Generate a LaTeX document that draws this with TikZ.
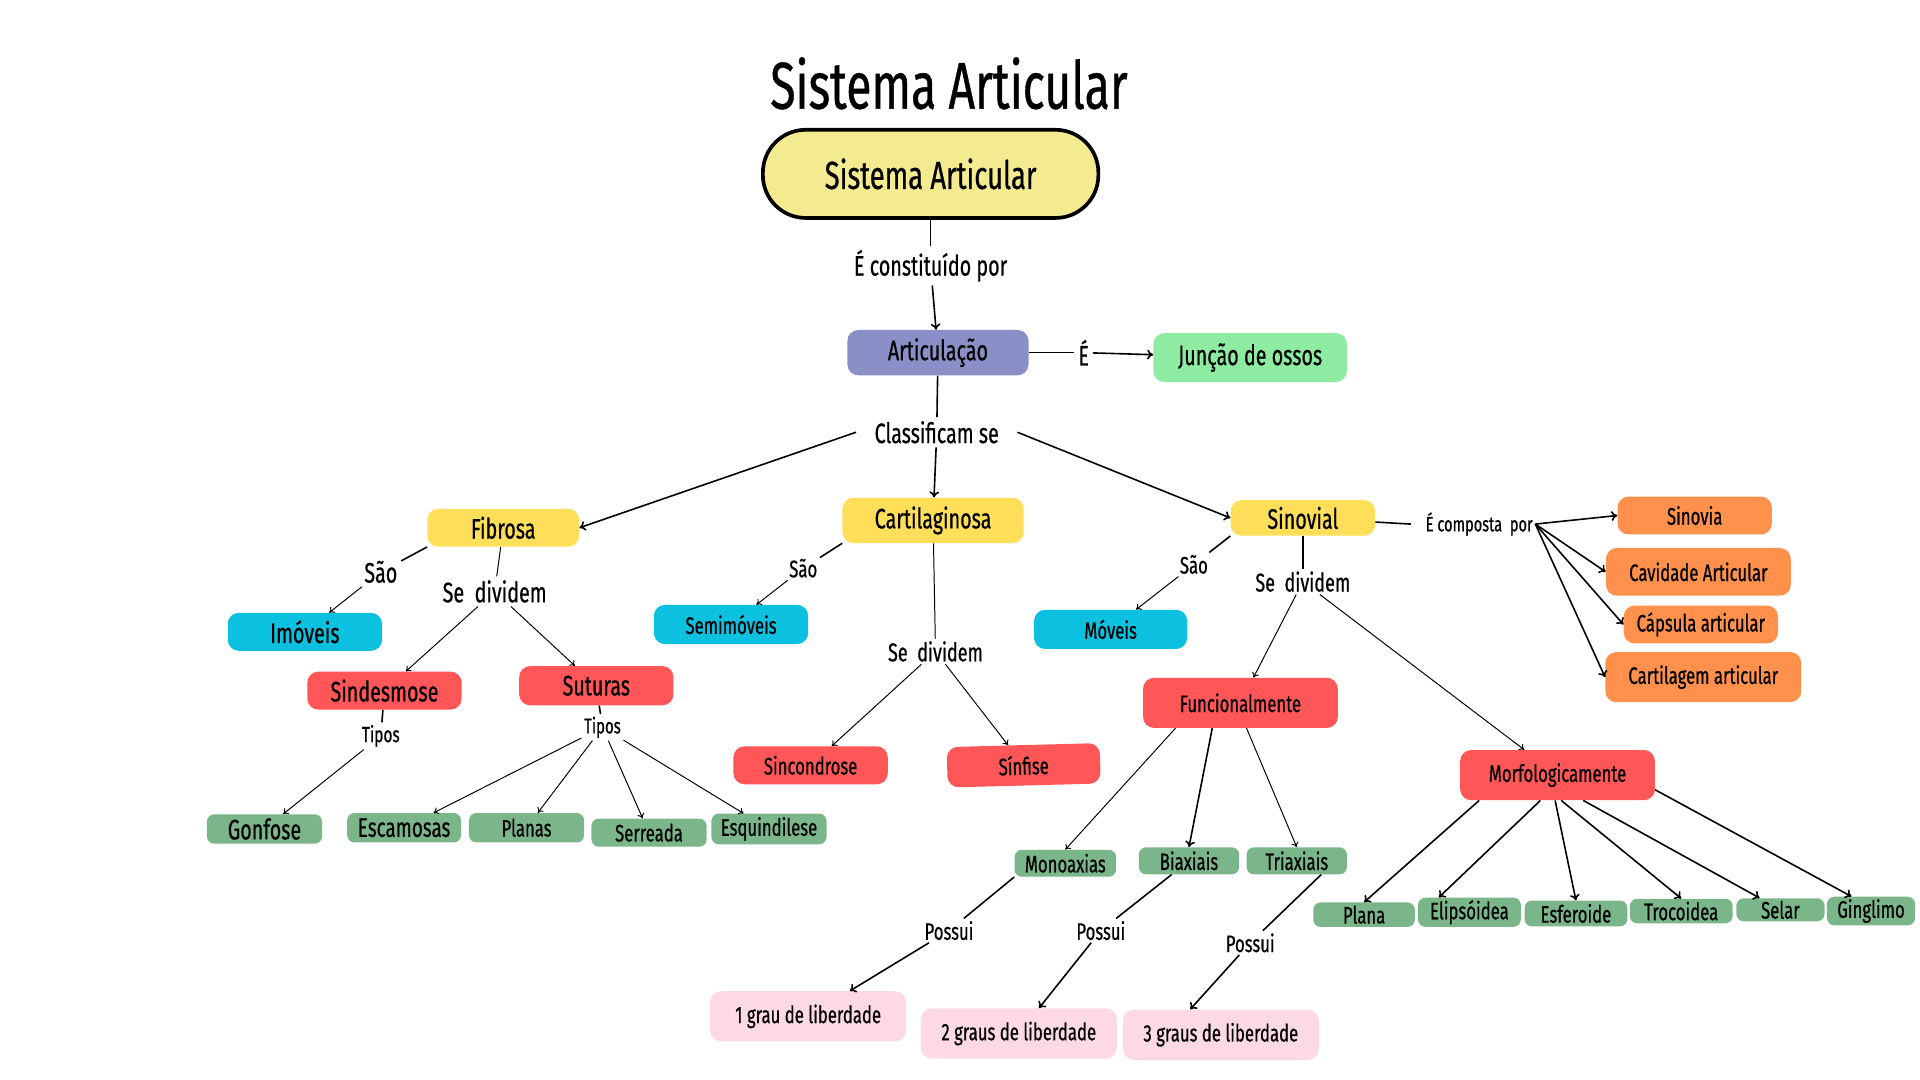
\documentclass[tikz,border=0pt]{standalone}
\usepackage{fontspec}
\setmainfont{Fira Sans}[FakeStretch=0.7, FakeBold=0.6]
\usetikzlibrary{arrows.meta}
\definecolor{pillyellow}{HTML}{F4EA90}
\definecolor{lavender}{HTML}{8A8FC7}
\definecolor{mint}{HTML}{8EEBA2}
\definecolor{sun}{HTML}{FFDE59}
\definecolor{sky}{HTML}{0CC0DF}
\definecolor{coral}{HTML}{FF5757}
\definecolor{sage}{HTML}{7BB68B}
\definecolor{tangerine}{HTML}{FF914D}
\definecolor{blush}{HTML}{FCD9E4}
\newcommand{\fsz}[1]{\fontsize{#1}{#1}\selectfont}
\tikzstyle{heading} = [font=\fsz{54}]
\tikzstyle{pill} = [rectangle, rounded corners=35, minimum width=274, minimum height=72, draw=black, line width=3pt, fill=pillyellow, font=\fsz{32}]
\tikzstyle{box} = [rectangle, rounded corners=9, text centered, inner sep=2, font=\fsz{23}]
\tikzstyle{smallbox} = [box, font=\fsz{19.5}]
\tikzstyle{leaf} = [smallbox, fill=sage, rounded corners=6]
\tikzstyle{label} = [inner sep=3, font=\fsz{23}]
\tikzstyle{smalllabel} = [inner sep=2, font=\fsz{19.5}]
\tikzstyle{link} = [line width=1.3pt]
\tikzstyle{thinlink} = [line width=0.8pt]
\tikzstyle{arrow} = [line width=1.3pt, -{To[length=5pt,width=8pt]}]
\tikzstyle{thinarrow} = [line width=0.8pt, -{To[length=4pt,width=6pt]}]

\begin{document}
\begin{tikzpicture}[x=1pt, y=-1pt]
    \useasboundingbox (0,0) rectangle (1568,882);
    \node (title)[heading] at (775,68){Sistema Articular};
    \node (sis)[pill] at (760,142){Sistema Articular};
    \node (cons)[label] at (760,217){É constituído por};
    \node (art)[box, fill=lavender, minimum width=148, minimum height=37] at (766,288){Articulação};
    \node (e)[label] at (885,288){É};
    \node (jun)[box, fill=mint, minimum width=158, minimum height=40] at (1021,292){Junção de ossos};
    \node (class)[label] at (765,353){Classificam se};
    \node (fib)[box, fill=sun, minimum width=124, minimum height=31] at (411,431){Fibrosa};
    \node (car)[box, fill=sun, minimum width=148, minimum height=37] at (762,425){Cartilaginosa};
    \node (sin)[box, fill=sun, minimum width=118, minimum height=29] at (1064,423){Sinovial};
    % fibrosa
    \node (fsao)[label] at (311,467){São};
    \node (fdiv)[label] at (404,483){Se~~dividem};
    \node (imo)[box, fill=sky, minimum width=126, minimum height=31] at (249,516){Imóveis};
    \node (sind)[box, fill=coral, minimum width=126, minimum height=31] at (314,564){Sindesmose};
    \node (sut)[box, fill=coral, minimum width=126, minimum height=32] at (487,560){Suturas};
    \node (tip1)[smalllabel, font=\fsz{18}] at (311,601){Tipos};
    \node (tip2)[smalllabel, font=\fsz{17.5}] at (492,594){Tipos};
    \node (gon)[leaf, font=\fsz{23}, minimum width=94, minimum height=24] at (216,677){Gonfose};
    \node (esc)[leaf, font=\fsz{22}, minimum width=93, minimum height=24] at (330,676){Escamosas};
    \node (pla)[leaf, minimum width=94, minimum height=24] at (430,676){Planas};
    \node (ser)[leaf, minimum width=94, minimum height=23] at (530,680){Serreada};
    \node (esq)[leaf, minimum width=94, minimum height=25] at (628,677){Esquindilese};
    % cartilaginosa
    \node (csao)[smalllabel] at (656,464){São};
    \node (cdiv)[smalllabel, font=\fsz{21}] at (764,532){Se~~dividem};
    \node (semi)[smallbox, fill=sky, minimum width=126, minimum height=32] at (597,510){Semimóveis};
    \node (sinc)[smallbox, fill=coral, minimum width=126, minimum height=31] at (662,625){Sincondrose};
    \node (sinf)[smallbox, fill=coral, minimum width=125, minimum height=33, rotate=1.5] at (836,625){Sínfise};
    % sinovial
    \node (ssao)[smalllabel] at (975,461){São};
    \node (sdiv)[smalllabel, font=\fsz{21}] at (1064,475){Se~~dividem};
    \node (mov)[smallbox, fill=sky, minimum width=125, minimum height=32] at (907,514){Móveis};
    \node (func)[smallbox, fill=coral, minimum width=159, minimum height=41] at (1013,574){Funcionalmente};
    \node (morf)[smallbox, fill=coral, minimum width=159, minimum height=41] at (1272,633){Morfologicamente};
    \node (comp)[smalllabel, font=\fsz{17}] at (1208,428){É composta~~por};
    \node (snv)[smallbox, fill=tangerine, minimum width=126, minimum height=31] at (1384,421){Sinovia};
    \node (cav)[smallbox, fill=tangerine, minimum width=151, minimum height=39] at (1387,467){Cavidade Articular};
    \node (cap)[smallbox, fill=tangerine, minimum width=126, minimum height=31] at (1389,510){Cápsula articular};
    \node (cart)[smallbox, fill=tangerine, minimum width=160, minimum height=41] at (1391,553){Cartilagem articular};
    \node (mono)[leaf, minimum width=83, minimum height=22] at (870,705){Monoaxias};
    \node (biax)[leaf, minimum width=82, minimum height=22] at (971,703){Biaxiais};
    \node (triax)[leaf, minimum width=82, minimum height=22] at (1059,703){Triaxiais};
    \node (pos1)[smalllabel] at (775,760){Possui};
    \node (pos2)[smalllabel] at (899,760){Possui};
    \node (pos3)[smalllabel] at (1021,770){Possui};
    \node (g1)[smallbox, fill=blush, minimum width=160, minimum height=41] at (660,830){1 grau de liberdade};
    \node (g2)[smallbox, fill=blush, minimum width=160, minimum height=41] at (832,844){2 graus de liberdade};
    \node (g3)[smallbox, fill=blush, minimum width=160, minimum height=41] at (997,845){3 graus de liberdade};
    \node (plana)[leaf, minimum width=83, minimum height=20] at (1114,747){Plana};
    \node (elip)[leaf, minimum width=84, minimum height=21] at (1200,745){Elipsóidea};
    \node (esf)[leaf, minimum width=84, minimum height=21] at (1287,746){Esferoide};
    \node (troc)[leaf, minimum width=84, minimum height=20] at (1373,744){Trocoidea};
    \node (selar)[leaf, minimum width=72, minimum height=18] at (1454,743){Selar};
    \node (ging)[leaf, minimum width=72, minimum height=18] at (1528,744){Ginglimo};

    \draw [link] (sis)--(cons);
    \draw [arrow] (cons)--(art);
    \draw [link] (art)--(e);
    \draw [arrow] (e)--(jun);
    \draw [link] (art)--(class);
    \draw [arrow] ([xshift=-12]class.west)--(fib.east);
    \draw [arrow] (class)--(car);
    \draw [arrow] ([xshift=12]class.east)--(sin.west);
    \draw [link] (fib.south west)--(fsao);
    \draw [thinarrow] (fsao)--(imo);
    \draw [thinlink] (fib)--(fdiv);
    \draw [thinarrow] (fdiv)--(sind);
    \draw [thinarrow] (fdiv)--(sut);
    \draw [link] (sind)--(tip1);
    \draw [thinarrow] (tip1)--(gon);
    \draw [link] (sut)--(tip2);
    \draw [thinarrow] (tip2)--(esc);
    \draw [thinarrow] (tip2)--(pla);
    \draw [thinarrow] (tip2)--(ser);
    \draw [thinarrow] (tip2)--(esq);
    \draw [link] (car.south west)--(csao);
    \draw [thinarrow] (csao)--(semi);
    \draw [thinlink] (car)--(cdiv);
    \draw [thinarrow] (cdiv)--(sinc);
    \draw [thinarrow] (cdiv)--(sinf);
    \draw [link] (sin.south west)--(ssao);
    \draw [thinarrow] (ssao)--(mov);
    \draw [link] (sin)--(sdiv);
    \draw [thinarrow] (sdiv)--(func);
    \draw [thinarrow] (sdiv)--(morf);
    \draw [link] (sin)--([xshift=-10]comp.west);
    \draw [arrow] (comp.east)--(snv.west);
    \draw [arrow] (comp.east)--(cav.west);
    \draw [arrow] (comp.east)--(cap.west);
    \draw [arrow] (comp.east)--(cart.west);
    \draw [thinarrow] ([xshift=-53]func.south)--(mono.north);
    \draw [arrow] ([xshift=-23]func.south)--(biax.north);
    \draw [thinarrow] ([xshift=5]func.south)--(triax.north);
    \draw [link] (mono.south west)--(pos1);
    \draw [arrow] (pos1)--(g1);
    \draw [link] (biax)--(pos2);
    \draw [arrow] (pos2)--(g2);
    \draw [link] ([xshift=20]triax.south)--(pos3);
    \draw [arrow] (pos3)--([xshift=-25]g3.north);
    \draw [arrow] ([xshift=-64]morf.south)--(plana.north);
    \draw [arrow] ([xshift=-14]morf.south)--([xshift=-25]elip.north);
    \draw [arrow] ([xshift=-2]morf.south)--(esf.north);
    \draw [arrow] ([xshift=3]morf.south)--(troc.north);
    \draw [arrow] ([xshift=21]morf.south)--([xshift=-17]selar.north);
    \draw [arrow] ([yshift=-12]morf.east)--([xshift=-16]ging.north);
\end{tikzpicture}
\end{document}
